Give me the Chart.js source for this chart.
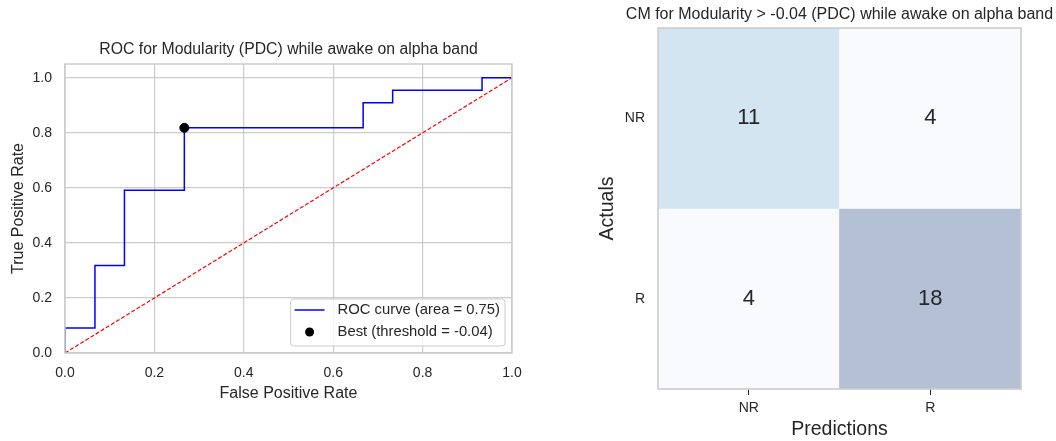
<!DOCTYPE html>
<html>
<head>
<meta charset="utf-8">
<script src="https://cdn.jsdelivr.net/npm/chart.js@4.4.1/dist/chart.umd.min.js"></script>
<style>
  html, body { margin: 0; padding: 0; background: #fff; overflow: hidden; }
  .cont { position: absolute; top: 0; width: 528px; height: 441px; }
  #roc { left: 0; }
  #cm { left: 528px; }
</style>
</head>
<body>
<div class="cont" id="roc"><canvas id="rocCanvas"></canvas></div>
<div class="cont" id="cm"><canvas id="cmCanvas"></canvas></div>
<script>
// ROC curve (steps from roc_curve), chance line and best threshold point
let fpr = [0, 0, 0.067, 0.067, 0.133, 0.133, 0.267, 0.267, 0.667, 0.667, 0.733, 0.733, 0.933, 0.933, 1],
    tpr = [0, 0.091, 0.091, 0.318, 0.318, 0.591, 0.591, 0.818, 0.818, 0.909, 0.909, 0.955, 0.955, 1, 1],
    chanceX = [0, 1],
    chanceY = [0, 1],
    bestFpr = 0.267,
    bestTpr = 0.818,
    rocTicks = [0, 0.2, 0.4, 0.6, 0.8, 1.0];

// confusion matrix: rows = actuals, columns = predictions
let classes = ['NR', 'R'],
    cmCounts = [[11, 4], [4, 18]],
    cmColors = [['#d2e5f0', '#f8fafd'], ['#f8fafd', '#b4c0d3']];

const family = '"Liberation Sans", Arial, sans-serif',
      ink = '#262626',
      gridGray = '#cccccc';

Chart.defaults.font.family = family;
Chart.defaults.color = ink;

// title centred over the plot area, like matplotlib does it
const axTitle = {
  id: 'axTitle',
  afterDraw(chart, args, opts) {
    const { ctx, chartArea: a } = chart;
    ctx.save();
    ctx.font = `${opts.size}px ${family}`;
    ctx.fillStyle = ink;
    ctx.textAlign = 'center';
    ctx.textBaseline = 'middle';
    ctx.fillText(opts.text, (a.left + a.right) / 2, a.top - opts.gap);
    ctx.restore();
  }
};

// box round the plot area
const frame = {
  id: 'frame',
  afterDatasetsDraw(chart, args, opts) {
    const { ctx, chartArea: a } = chart;
    ctx.save();
    ctx.strokeStyle = opts.color;
    ctx.lineWidth = opts.width;
    ctx.strokeRect(a.left, a.top, a.right - a.left, a.bottom - a.top);
    ctx.restore();
  }
};

// legend box in the lower right corner of the plot
const boxLegend = {
  id: 'boxLegend',
  afterDraw(chart, args, opts) {
    const { ctx, chartArea: a } = chart;
    let items = chart.data.datasets.filter(d => !d.noLegend);
    ctx.save();
    ctx.font = `${opts.size}px ${family}`;
    let textW = Math.max(...items.map(d => ctx.measureText(d.label).width)),
        rowH = 22,
        w = 47 + textW + 5,
        h = items.length * rowH + 3,
        x0 = a.right - 7 - w,
        y0 = a.bottom - 7 - h;
    ctx.beginPath();
    ctx.roundRect(x0, y0, w, h, 3);
    ctx.fillStyle = 'rgba(255,255,255,0.8)';
    ctx.fill();
    ctx.strokeStyle = gridGray;
    ctx.lineWidth = 1;
    ctx.stroke();
    items.forEach((d, i) => {
      let cy = y0 + 11 + i * rowH;
      if (d.showLine) {
        ctx.beginPath();
        ctx.moveTo(x0 + 4, cy);
        ctx.lineTo(x0 + 34, cy);
        ctx.strokeStyle = d.borderColor;
        ctx.lineWidth = d.borderWidth;
        ctx.stroke();
      } else {
        ctx.beginPath();
        ctx.arc(x0 + 19, cy, d.pointRadius, 0, Math.PI * 2);
        ctx.fillStyle = d.backgroundColor;
        ctx.fill();
      }
      ctx.fillStyle = ink;
      ctx.textAlign = 'left';
      ctx.textBaseline = 'middle';
      ctx.fillText(d.label, x0 + 47, cy);
    });
    ctx.restore();
  }
};

// counts written in the middle of each cell
const cellText = {
  id: 'cellText',
  afterDatasetsDraw(chart, args, opts) {
    const ctx = chart.ctx;
    ctx.save();
    ctx.font = `${opts.size}px ${family}`;
    ctx.fillStyle = ink;
    ctx.textAlign = 'center';
    ctx.textBaseline = 'middle';
    chart.data.datasets.forEach((d, i) => {
      chart.getDatasetMeta(i).data.forEach((bar, j) => {
        ctx.fillText(d.counts[j], bar.x, (bar.y + bar.base) / 2);
      });
    });
    ctx.restore();
  }
};

const toPoints = (xs, ys) => xs.map((x, i) => ({ x, y: ys[i] }));

new Chart(document.getElementById('rocCanvas'), {
  type: 'scatter',
  data: {
    datasets: [
      {
        label: 'ROC curve (area = 0.75)',
        data: toPoints(fpr, tpr),
        showLine: true,
        borderColor: '#0000ff',
        borderWidth: 1.5,
        pointRadius: 0,
        order: 2
      },
      {
        label: 'chance',
        data: toPoints(chanceX, chanceY),
        showLine: true,
        borderColor: '#ff0000',
        borderWidth: 1.2,
        borderDash: [4, 2],
        pointRadius: 0,
        noLegend: true,
        order: 1
      },
      {
        label: 'Best (threshold = -0.04)',
        data: [{ x: bestFpr, y: bestTpr }],
        pointRadius: 4.5,
        backgroundColor: '#000',
        borderColor: '#000',
        order: 0
      }
    ]
  },
  options: {
    responsive: true,
    maintainAspectRatio: false,
    animation: false,
    layout: { padding: { left: 0, right: 16, top: 64, bottom: 0 } },
    plugins: {
      legend: { display: false },
      tooltip: { enabled: false },
      axTitle: { text: 'ROC for Modularity (PDC) while awake on alpha band', size: 15.8, gap: 14 },
      frame: { color: gridGray, width: 1.5 },
      boxLegend: { size: 14.8 }
    },
    scales: {
      x: {
        type: 'linear', min: 0, max: 1,
        afterBuildTicks: s => { s.ticks = rocTicks.map(v => ({ value: v })); },
        // fixed height; the "1.0" label may hang into the right margin
        afterFit: s => { s.height = 88; s.paddingRight = 0; s.paddingLeft = 0; },
        ticks: { font: { size: 14 }, padding: 12, autoSkip: false, maxRotation: 0, callback: v => v.toFixed(1) },
        grid: { color: gridGray, lineWidth: 1.2, drawTicks: false },
        border: { display: false },
        title: { display: true, text: 'False Positive Rate', font: { size: 16 }, padding: { top: 0, bottom: 38 } }
      },
      y: {
        type: 'linear', min: 0, max: 1.05,
        afterBuildTicks: s => { s.ticks = rocTicks.map(v => ({ value: v })); },
        afterFit: s => { s.width = 65; },
        ticks: { font: { size: 14 }, padding: 13, autoSkip: false, callback: v => v.toFixed(1) },
        grid: { color: gridGray, lineWidth: 1.2, drawTicks: false },
        border: { display: false },
        title: { display: true, text: 'True Positive Rate', font: { size: 16 }, padding: { top: 9, bottom: 0 } }
      }
    }
  },
  plugins: [axTitle, frame, boxLegend]
});

new Chart(document.getElementById('cmCanvas'), {
  type: 'bar',
  data: {
    labels: classes,
    datasets: classes.map((actual, i) => ({
      label: actual,
      data: classes.map(() => [i, i + 1]),
      counts: cmCounts[i],
      backgroundColor: cmColors[i],
      borderWidth: 0,
      grouped: false,
      barPercentage: 1,
      categoryPercentage: 1
    }))
  },
  options: {
    responsive: true,
    maintainAspectRatio: false,
    animation: false,
    layout: { padding: { left: 0, right: 35, top: 28, bottom: 0 } },
    plugins: {
      legend: { display: false },
      tooltip: { enabled: false },
      axTitle: { text: 'CM for Modularity > -0.04 (PDC) while awake on alpha band', size: 16, gap: 13 },
      frame: { color: gridGray, width: 1.6 },
      cellText: { size: 22 }
    },
    scales: {
      x: {
        afterFit: s => { s.height = 52; },
        ticks: { font: { size: 14 }, padding: 5 },
        grid: { offset: false, drawOnChartArea: false, color: 'rgba(0,0,0,0)', tickColor: ink, tickLength: 6, tickWidth: 1 },
        border: { display: false },
        title: { display: true, text: 'Predictions', font: { size: 19.5 }, padding: { top: 0, bottom: 0 } }
      },
      y: {
        type: 'linear', min: 0, max: classes.length, reverse: true,
        afterBuildTicks: s => { s.ticks = classes.map((c, i) => ({ value: i + 0.5 })); },
        afterFit: s => { s.width = 130; },
        ticks: { font: { size: 14 }, padding: 5, autoSkip: false, callback: v => classes[Math.floor(v)] },
        grid: { display: false },
        border: { display: false },
        title: { display: true, text: 'Actuals', font: { size: 19.5 }, padding: { top: 68, bottom: 0 } }
      }
    }
  },
  plugins: [axTitle, frame, cellText]
});
</script>
</body>
</html>
